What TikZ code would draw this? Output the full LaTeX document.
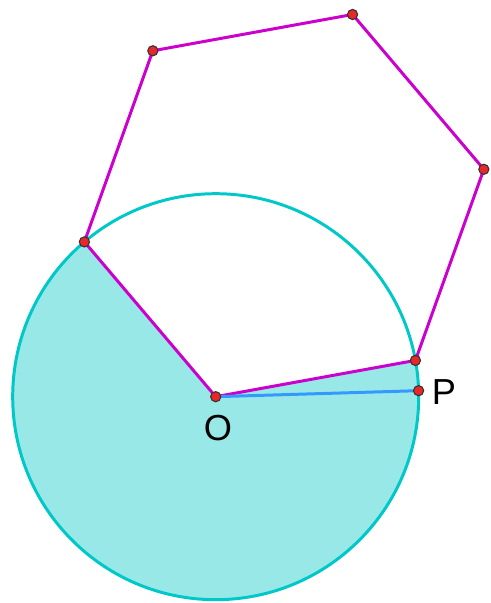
\documentclass[tikz,border=0pt]{standalone}
\usepackage{fontspec}
\setmainfont{Liberation Sans}
\usepackage{xcolor}
\usepackage{tikz}
\usetikzlibrary{calc}
\definecolor{circcian}{RGB}{0,200,200}
\definecolor{relleno}{RGB}{153,232,232}
\definecolor{hexmagenta}{RGB}{204,0,204}
\definecolor{radioazul}{RGB}{51,153,255}
\definecolor{puntorojo}{RGB}{230,40,40}
\tikzset{
  vertice/.style={circle,fill=puntorojo,draw=black!80,line width=0.3pt,inner sep=0pt,minimum size=2.9pt},
  etiqueta/.style={font=\fontsize{10.3}{12.4}\selectfont}
}

\begin{document}
\begin{tikzpicture}[line width=0.85pt]
    \useasboundingbox (-2.157,-2.063) rectangle (2.753,3.967);
    % centro y radio del circulo
    \coordinate (O) at (0,0);
    \def\radio{2.03}
    % hexagono regular de lado igual al radio
    \coordinate (E) at (10.3:\radio);
    \coordinate (D) at ($(E)+(70.3:\radio)$);
    \coordinate (C) at ($(D)+(130.3:\radio)$);
    \coordinate (B) at ($(C)+(190.3:\radio)$);
    \coordinate (A) at (130.3:\radio);
    \coordinate (P) at (1.7:\radio);
    % sector sombreado
    \fill[relleno] (O) -- (A) arc (130.3:370.3:\radio) -- cycle;
    \draw[circcian] (O) circle (\radio);
    % lados del hexagono
    \draw[hexmagenta] (O) -- (A) -- (B) -- (C) -- (D) -- (E) -- (O);
    % radio OP
    \draw[radioazul] (O) -- (P);
    % vertices
    \foreach \p in {O,A,B,C,D,E,P}
        \node[vertice] (v\p) at (\p) {};
    \node[etiqueta] (lO) at (0.023,-0.313) {O};
    \node[etiqueta] (lP) at (2.283,0.047) {P};
\end{tikzpicture}
\end{document}
